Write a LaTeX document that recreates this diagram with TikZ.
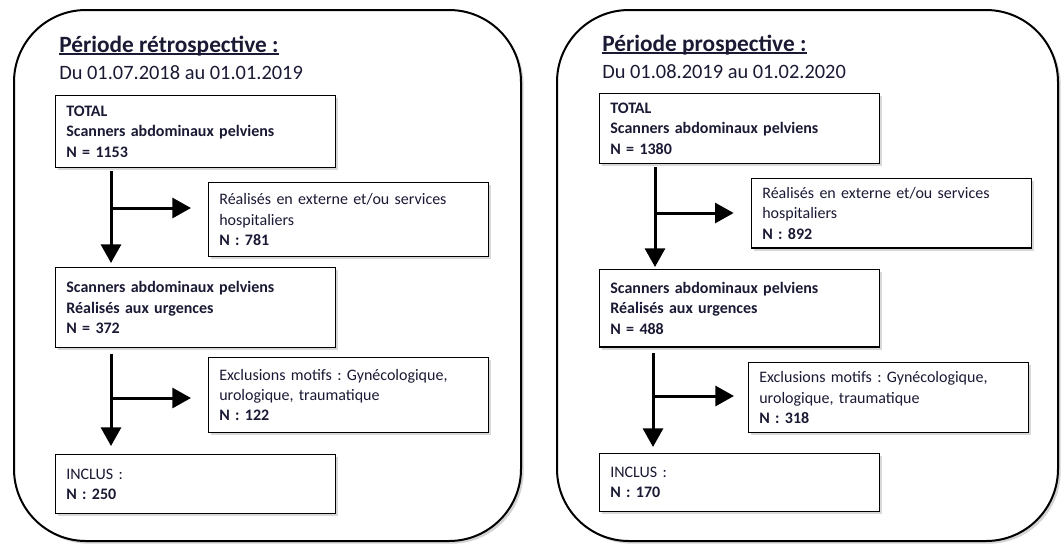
\documentclass[tikz,border=0pt]{standalone}
\usepackage{fontspec}
\setmainfont{Carlito}
\usepackage{xcolor}
\usetikzlibrary{arrows.meta, positioning, shadows}
\definecolor{txt}{HTML}{1A1A35}
\frenchspacing

\begin{document}
\begin{tikzpicture}[x=0.75pt, y=-0.75pt,
		panel/.style={draw, line width=1.5pt, fill=white, rounded corners=54pt, drop shadow={shadow xshift=2pt, shadow yshift=-2pt, opacity=.35}},
		elem/.style={draw, line width=1pt, fill=white, anchor=north west, align=left, text width=194pt, inner xsep=8pt, inner ysep=4pt, text=txt, font=\fontsize{12}{15.2}\selectfont, drop shadow={shadow xshift=2pt, shadow yshift=-2pt, opacity=.3}},
		head/.style={anchor=base west, inner sep=0pt, text=txt},
		uline/.style={draw=txt, line width=1pt},
		arr/.style={line width=2.25pt, -{Triangle[length=14pt, width=15pt]}}]
		\useasboundingbox (0,0) rectangle (1061,544);
		% retrospective
		\draw [panel] (14,10) rectangle (521,541);
		\node (rtit) [head, font=\fontsize{17.5}{21}\selectfont\bfseries] at (59,52) {Période rétrospective :};
		\draw [uline] ([yshift=-1.5pt]rtit.base west) -- ([yshift=-1.5pt]rtit.base east);
		\node (rdat) [head, font=\fontsize{15.3}{18}\selectfont] at (59,79) {Du 01.07.2018 au 01.01.2019};
		\node (rtot) [elem, minimum height=54pt] at (55,95) {\textbf{TOTAL}\\\textbf{Scanners abdominaux pelviens}\\\textbf{N = 1153}};
		\node (rext) [elem, minimum height=55.5pt] at (208,182) {Réalisés en externe et/ou services\\hospitaliers\\\textbf{N : 781}};
		\node (rurg) [elem, minimum height=60pt] at (55,267) {\textbf{Scanners abdominaux pelviens}\\\textbf{Réalisés aux urgences}\\\textbf{N = 372}};
		\node (rexc) [elem, minimum height=56pt] at (208,357) {Exclusions motifs : Gynécologique,\\urologique, traumatique\\\textbf{N : 122}};
		\node (rinc) [elem, minimum height=44pt] at (55,454) {INCLUS :\\\textbf{N : 250}};
		\coordinate (rb1) at (111,208);
		\coordinate (rb2) at (111,398);
		\draw [arr, shorten <=2pt, shorten >=3pt] (rtot.south -| rb1) -- (rurg.north -| rb1);
		\draw [arr, shorten >=12.75pt] (rb1) -- (rext.west |- rb1);
		\draw [arr, shorten <=4pt, shorten >=6pt] (rurg.south -| rb2) -- (rinc.north -| rb2);
		\draw [arr, shorten >=12.75pt] (rb2) -- (rexc.west |- rb2);
		% prospective
		\draw [panel] (557,10) rectangle (1058,541);
		\node (ptit) [head, font=\fontsize{17.5}{21}\selectfont\bfseries] at (602,51) {Période prospective :};
		\draw [uline] ([yshift=-1.5pt]ptit.base west) -- ([yshift=-1.5pt]ptit.base east);
		\node (pdat) [head, font=\fontsize{15.3}{18}\selectfont] at (602,78) {Du 01.08.2019 au 01.02.2020};
		\node (ptot) [elem, minimum height=52.5pt] at (599,93) {\textbf{TOTAL}\\\textbf{Scanners abdominaux pelviens}\\\textbf{N = 1380}};
		\node (pext) [elem, minimum height=52pt] at (751,178) {Réalisés en externe et/ou services\\hospitaliers\\\textbf{N : 892}};
		\node (purg) [elem, minimum height=58pt] at (599,269) {\textbf{Scanners abdominaux pelviens}\\\textbf{Réalisés aux urgences}\\\textbf{N = 488}};
		\node (pexc) [elem, minimum height=52.5pt] at (748,362) {Exclusions motifs : Gynécologique,\\urologique, traumatique\\\textbf{N : 318}};
		\node (pinc) [elem, minimum height=43.5pt] at (599,453) {INCLUS :\\\textbf{N : 170}};
		\coordinate (pb1) at (655,213);
		\coordinate (pb2) at (653,396);
		\draw [arr, shorten <=2pt, shorten >=1.5pt] (ptot.south -| pb1) -- (purg.north -| pb1);
		\draw [arr, shorten >=13pt] (pb1) -- (pext.west |- pb1);
		\draw [arr, shorten <=4pt, shorten >=4.5pt] (purg.south -| pb2) -- (pinc.north -| pb2);
		\draw [arr, shorten >=10.5pt] (pb2) -- (pexc.west |- pb2);
	\end{tikzpicture}
\end{document}
